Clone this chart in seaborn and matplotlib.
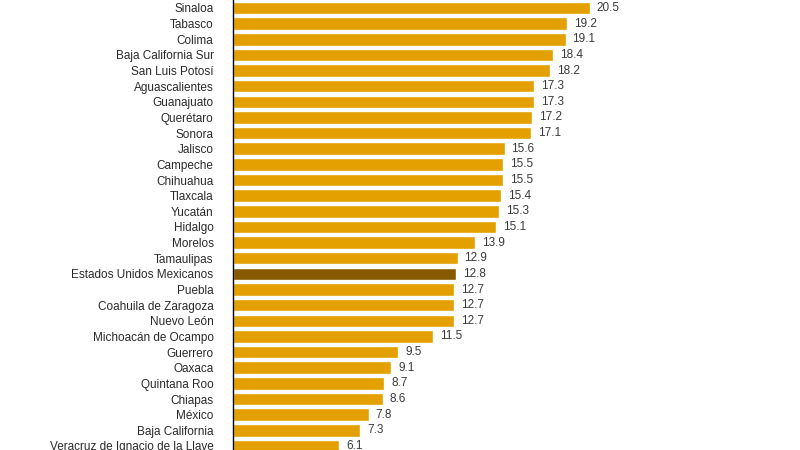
import matplotlib
matplotlib.use('Agg')
import matplotlib.pyplot as plt
import seaborn as sns
import pandas as pd

# Datos
estados = ['Sinaloa', 'Tabasco', 'Colima', 'Baja California Sur', 'San Luis Potosí',
           'Aguascalientes', 'Guanajuato', 'Querétaro', 'Sonora', 'Jalisco',
           'Campeche', 'Chihuahua', 'Tlaxcala', 'Yucatán', 'Hidalgo', 'Morelos',
           'Tamaulipas', 'Estados Unidos Mexicanos', 'Puebla', 'Coahuila de Zaragoza',
           'Nuevo León', 'Michoacán de Ocampo', 'Guerrero', 'Oaxaca', 'Quintana Roo',
           'Chiapas', 'México', 'Baja California', 'Veracruz de Ignacio de la Llave']
valores = [20.5, 19.2, 19.1, 18.4, 18.2, 17.3, 17.3, 17.2, 17.1, 15.6,
           15.5, 15.5, 15.4, 15.3, 15.1, 13.9, 12.9, 12.8, 12.7, 12.7,
           12.7, 11.5, 9.5, 9.1, 8.7, 8.6, 7.8, 7.3, 6.1]
nacional = 'Estados Unidos Mexicanos'

df = pd.DataFrame({'estado': estados, 'valor': valores})
df['grupo'] = ['nacional' if e == nacional else 'estado' for e in df['estado']]

sns.set_style('white')
plt.rcParams['font.family'] = ['Liberation Sans', 'DejaVu Sans']

fig = plt.figure(figsize=(8, 4.5), dpi=100)
ax = fig.add_axes([233 / 800, 0, 1 - 233 / 800 - 0.02, 1])

sns.barplot(data=df, y='estado', x='valor', hue='grupo', orient='h',
            palette={'estado': '#E3A000', 'nacional': '#875A00'},
            saturation=1, dodge=False, width=0.8, legend=False, ax=ax)

for i, v in enumerate(valores):
    ax.text(v + 0.4, i, f'{v:.1f}', va='center', ha='left', fontsize=8.5, color='#3a3a3a')

ax.set_xlim(0, 31.65)
ax.set_ylim(28.26, -0.51)
ax.set_xlabel('')
ax.set_ylabel('')
ax.set_xticks([])
ax.tick_params(axis='y', length=0, pad=14, labelsize=8.5, labelcolor='#2a2a2a')
for s in ['top', 'right', 'bottom']:
    ax.spines[s].set_visible(False)
ax.spines['left'].set_color('black')
ax.spines['left'].set_linewidth(1)

fig.savefig('out.png', dpi=100)
